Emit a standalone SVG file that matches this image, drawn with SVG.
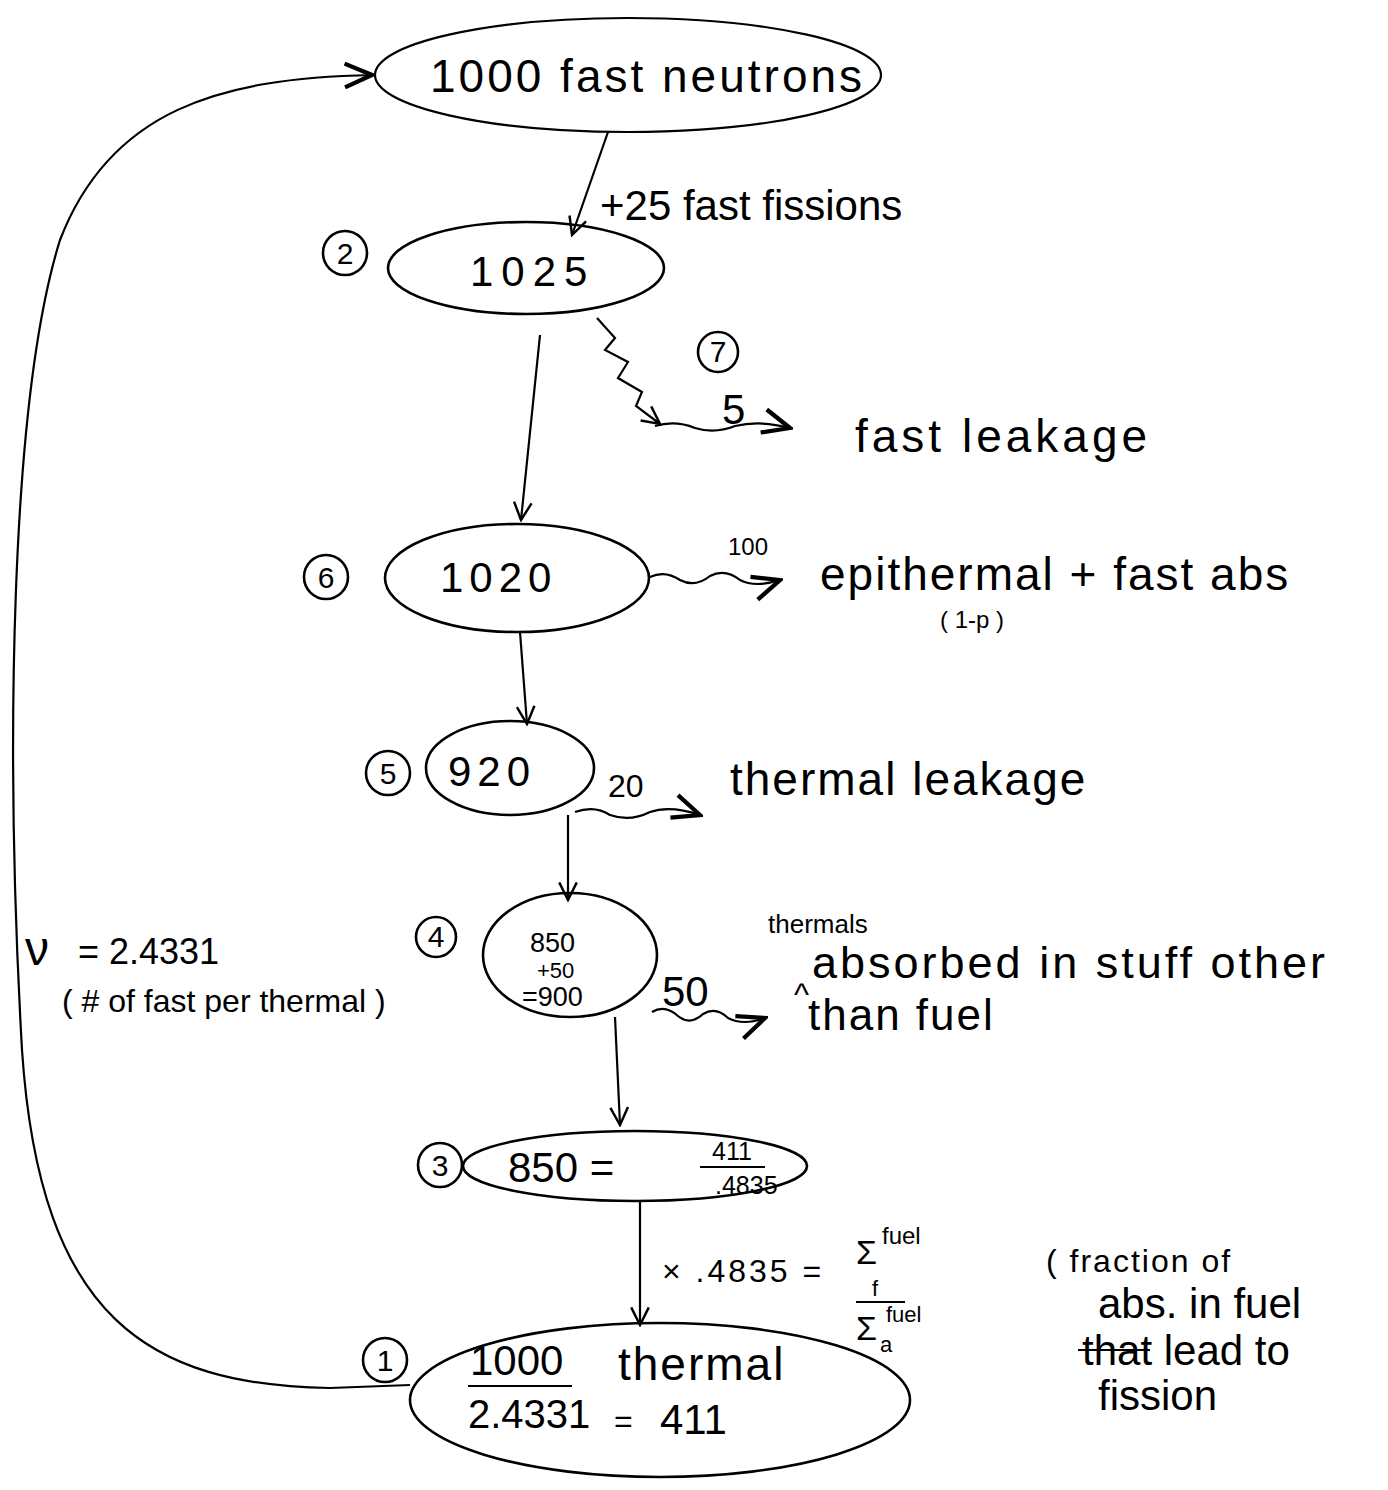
<svg xmlns="http://www.w3.org/2000/svg" width="1388" height="1490" viewBox="0 0 1388 1490">
<defs>
<marker id="ah" viewBox="0 0 20 20" refX="18" refY="10" markerWidth="22" markerHeight="22" markerUnits="userSpaceOnUse" orient="auto">
<path d="M2 2 L18 10 L2 18" fill="none" stroke="#000" stroke-width="2.2"/>
</marker>
<marker id="ahb" viewBox="0 0 20 20" refX="18" refY="10" markerWidth="34" markerHeight="34" markerUnits="userSpaceOnUse" orient="auto">
<path d="M2 3 L18 10 L2 17" fill="none" stroke="#000" stroke-width="2.5"/>
</marker>
<style>
.n{fill:none;stroke:#000;stroke-width:2.6}
.c{fill:none;stroke:#000;stroke-width:2.2}
.e{fill:none;stroke:#000;stroke-width:2.2}
text{font-family:"Liberation Sans","DejaVu Sans",sans-serif;fill:#000}
.t{font-size:42px}
.L{font-size:46px;letter-spacing:2px}
.s{font-size:32px}
.x{font-size:24px}
.num{font-size:30px;text-anchor:middle}
</style>
</defs>
<rect width="1388" height="1490" fill="#fff"/>

<g id="connectors">
<path class="c" d="M410 1385 L330 1388 C150 1385 40 1320 22 1050 C5 750 10 400 60 240 C110 110 220 78 372 75" marker-end="url(#ahb)"/>
<path class="c" d="M608 132 L572 235" marker-end="url(#ah)"/>
<path class="c" d="M597 318 L615 338 L605 350 L628 362 L618 378 L642 392 L636 406 L660 424" marker-end="url(#ah)"/>
<path class="c" d="M655 426 Q675 420 695 428 Q715 434 735 426 Q760 420 790 428" marker-end="url(#ahb)"/>
<path class="c" d="M540 335 L521 520" marker-end="url(#ah)"/>
<path class="c" d="M650 577 Q665 570 680 580 Q695 588 710 576 Q725 568 740 580 Q755 588 780 580" marker-end="url(#ahb)"/>
<path class="c" d="M520 632 L527 724" marker-end="url(#ah)"/>
<path class="c" d="M575 812 Q595 805 610 815 Q630 822 650 812 Q670 805 700 815" marker-end="url(#ahb)"/>
<path class="c" d="M568 815 L568 900" marker-end="url(#ah)"/>
<path class="c" d="M652 1012 Q665 1004 678 1016 Q690 1026 703 1014 Q716 1006 728 1018 Q743 1026 765 1018" marker-end="url(#ahb)"/>
<path class="c" d="M615 1017 L620 1125" marker-end="url(#ah)"/>
<path class="c" d="M640 1200 L640 1325" marker-end="url(#ah)"/>
</g>

<g id="node-fast">
<ellipse class="e" cx="628" cy="75" rx="253" ry="57"/>
<text class="L" x="430" y="92" style="letter-spacing:3px">1000 fast neutrons</text>
</g>
<text class="t" x="600" y="220">+25 fast fissions</text>

<g id="node-2">
<circle class="n" cx="345" cy="253" r="22"/>
<text class="num" x="345" y="264">2</text>
<ellipse class="n" cx="526" cy="268" rx="138" ry="46"/>
<text class="t" x="470" y="286" style="letter-spacing:8px">1025</text>
</g>

<g id="label-7">
<circle class="n" cx="718" cy="352" r="20"/>
<text class="num" x="718" y="362">7</text>
<text class="t" x="722" y="424">5</text>
<text class="L" x="855" y="452" style="letter-spacing:4px">fast leakage</text>
</g>

<g id="node-6">
<circle class="n" cx="326" cy="577" r="22"/>
<text class="num" x="326" y="588">6</text>
<ellipse class="n" cx="517" cy="578" rx="132" ry="54"/>
<text class="t" x="440" y="592" style="letter-spacing:6px">1020</text>
<text class="x" x="728" y="555">100</text>
<text class="L" x="820" y="590">epithermal + fast abs</text>
<text class="x" x="940" y="628">( 1-p )</text>
</g>

<g id="node-5">
<circle class="n" cx="388" cy="773" r="22"/>
<text class="num" x="388" y="784">5</text>
<ellipse class="n" cx="510" cy="768" rx="84" ry="47"/>
<text class="t" x="448" y="786" style="letter-spacing:6px">920</text>
<text class="s" x="608" y="797">20</text>
<text class="L" x="730" y="795">thermal leakage</text>
</g>

<g id="node-4">
<circle class="n" cx="436" cy="937" r="20"/>
<text class="num" x="436" y="947">4</text>
<ellipse class="n" cx="570" cy="955" rx="87" ry="62"/>
<text x="530" y="952" style="font-size:27px">850</text>
<text x="537" y="978" style="font-size:22px">+50</text>
<text x="522" y="1006" style="font-size:27px">=900</text>
<text class="t" x="662" y="1006">50</text>
<text x="768" y="933" style="font-size:26px">thermals</text>
<text class="s" x="794" y="1005">^</text>
<text x="812" y="978" style="font-size:45px;letter-spacing:3px">absorbed in stuff other</text>
<text x="808" y="1030" style="font-size:44px;letter-spacing:2px">than fuel</text>
</g>

<g id="nu">
<text x="25" y="965" style="font-size:48px">ν</text>
<text x="78" y="964" style="font-size:36px">= 2.4331</text>
<text class="s" x="62" y="1012">( # of fast per thermal )</text>
</g>

<g id="node-3">
<circle class="n" cx="440" cy="1165" r="22"/>
<text class="num" x="440" y="1176">3</text>
<ellipse class="n" cx="635" cy="1166" rx="172" ry="35"/>
<text class="t" x="508" y="1182">850 =</text>
<text x="712" y="1160" style="font-size:25px">411</text>
<line class="c" x1="700" y1="1167" x2="765" y2="1167"/>
<text x="715" y="1194" style="font-size:25px">.4835</text>
</g>

<g id="factor">
<text class="s" x="662" y="1282" style="letter-spacing:3px">× .4835 =</text>
<text x="856" y="1264" style="font-size:34px">Σ</text>
<text class="x" x="882" y="1244">fuel</text>
<text x="872" y="1296" style="font-size:22px">f</text>
<line class="c" x1="856" y1="1302" x2="905" y2="1302"/>
<text x="856" y="1340" style="font-size:34px">Σ</text>
<text x="880" y="1352" style="font-size:22px">a</text>
<text x="886" y="1322" style="font-size:22px">fuel</text>
<text class="s" x="1046" y="1272" style="letter-spacing:2px">( fraction of</text>
<text class="t" x="1098" y="1318">abs. in fuel</text>
<text class="t" x="1082" y="1365">that lead to</text>
<line class="c" x1="1078" y1="1350" x2="1150" y2="1350"/>
<text class="t" x="1098" y="1410">fission</text>
</g>

<g id="node-1">
<circle class="n" cx="385" cy="1360" r="22"/>
<text class="num" x="385" y="1371">1</text>
<ellipse class="n" cx="660" cy="1400" rx="250" ry="77"/>
<text class="t" x="470" y="1375">1000</text>
<line class="c" x1="468" y1="1386" x2="572" y2="1386"/>
<text class="L" x="618" y="1380">thermal</text>
<text x="468" y="1428" style="font-size:40px">2.4331</text>
<text class="s" x="614" y="1432">=</text>
<text class="t" x="660" y="1434">411</text>
</g>
</svg>
